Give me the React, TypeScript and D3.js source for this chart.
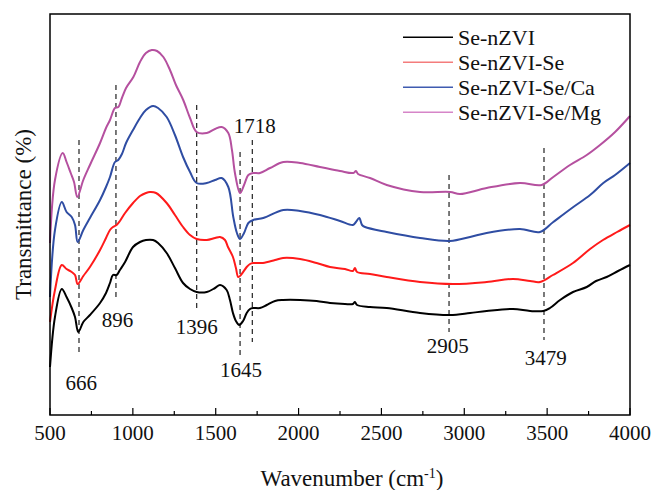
import React from "react";
import * as d3 from "d3";

// ---- data (wavenumber cm^-1, transmittance in arbitrary offset units) ----
const seNZVI: [number, number][] = [
  [500, 48], [530, 98], [571, 126], [600, 118], [631, 107], [651, 98], [671, 83], [701, 93],
  [741, 100], [802, 112], [838, 122], [862, 132], [880, 140], [902, 140], [922, 145], [953, 153],
  [1001, 168], [1043, 173], [1079, 175], [1122, 175], [1152, 172], [1204, 162], [1254, 147],
  [1303, 132], [1345, 126], [1385, 123], [1446, 123], [1496, 127], [1526, 130], [1566, 125],
  [1586, 115], [1604, 102], [1622, 94], [1642, 90], [1665, 94], [1687, 102], [1707, 106],
  [1725, 107], [1767, 107], [1808, 110], [1858, 114], [1906, 115], [2009, 115], [2109, 114],
  [2190, 112], [2280, 111], [2328, 111], [2340, 113], [2353, 110], [2431, 108], [2532, 107],
  [2733, 102], [2914, 100], [3035, 102], [3135, 104], [3294, 106], [3397, 104], [3477, 104],
  [3517, 107], [3578, 115], [3656, 123], [3739, 128], [3795, 134], [3859, 138], [3928, 144],
  [4000, 150],
];

const seNZVISe: [number, number][] = [
  [500, 93], [530, 125], [571, 150], [600, 146], [631, 143], [651, 140], [667, 131], [701, 139],
  [741, 148], [802, 165], [838, 177], [862, 185], [880, 188], [902, 190], [922, 194], [953, 202],
  [1001, 212], [1043, 219], [1079, 222], [1103, 223], [1140, 222], [1204, 212], [1254, 200],
  [1303, 188], [1345, 180], [1385, 176], [1446, 175], [1496, 177], [1526, 178], [1556, 175],
  [1574, 168], [1604, 158], [1622, 147], [1636, 138], [1652, 140], [1687, 148], [1707, 151],
  [1725, 152], [1785, 152], [1858, 155], [1906, 157], [2009, 156], [2109, 152], [2190, 148],
  [2280, 146], [2328, 144], [2340, 147], [2353, 143], [2431, 141], [2532, 138], [2733, 133],
  [2932, 131], [3135, 133], [3294, 136], [3397, 134], [3457, 133], [3535, 140], [3656, 152],
  [3759, 166], [3837, 175], [3922, 183], [4000, 190],
];

const seNZVISeCa: [number, number][] = [
  [500, 118], [530, 185], [571, 213], [600, 203], [631, 198], [651, 190], [667, 173], [701, 185],
  [741, 197], [802, 215], [838, 228], [862, 238], [892, 253], [912, 255], [934, 261], [959, 272],
  [1001, 285], [1043, 297], [1079, 305], [1122, 309], [1152, 307], [1204, 298], [1254, 280],
  [1303, 258], [1345, 243], [1385, 232], [1446, 232], [1496, 235], [1536, 237], [1576, 228],
  [1606, 198], [1628, 182], [1647, 176], [1671, 182], [1697, 192], [1727, 195], [1787, 197],
  [1908, 205], [2009, 204], [2129, 200], [2250, 194], [2328, 190], [2346, 193], [2366, 197],
  [2383, 190], [2401, 188], [2532, 183], [2733, 177], [2914, 174], [3035, 178], [3135, 182],
  [3336, 186], [3457, 183], [3537, 193], [3658, 208], [3759, 220], [3839, 232], [3910, 240],
  [4000, 252],
];

const seNZVISeMg: [number, number][] = [
  [500, 172], [530, 235], [577, 262], [600, 253], [625, 242], [645, 233], [665, 218], [701, 235],
  [741, 250], [802, 272], [838, 287], [862, 295], [892, 307], [912, 308], [934, 317], [959, 327],
  [1003, 338], [1043, 353], [1079, 362], [1114, 365], [1146, 364], [1184, 358], [1224, 345],
  [1260, 330], [1304, 315], [1345, 297], [1385, 283], [1446, 282], [1496, 286], [1536, 288],
  [1576, 282], [1598, 265], [1616, 242], [1647, 222], [1671, 230], [1697, 240], [1725, 242],
  [1767, 242], [1828, 247], [1908, 253], [2009, 252], [2129, 248], [2250, 244], [2330, 242],
  [2346, 244], [2359, 241], [2431, 237], [2532, 230], [2733, 223], [2914, 223], [2974, 221],
  [3135, 227], [3336, 232], [3467, 230], [3537, 238], [3638, 250], [3739, 260], [3819, 270],
  [3910, 283], [4000, 299],
];

const seriesNames = ["Se-nZVI", "Se-nZVI-Se", "Se-nZVI-Se/Ca", "Se-nZVI-Se/Mg"];
const seriesData = [seNZVI, seNZVISe, seNZVISeCa, seNZVISeMg];
const seriesColors = ["#000000", "#ff1a1a", "#2f4da3", "#b5509f"];
const legendColors = ["#000000", "#f47c7c", "#3f5bb0", "#d685c8"];

// peak marker lines: wavenumber, top, bottom (transmittance units)
const peakLines: [number, number, number][] = [
  [675, 275, 60], [898, 330, 115], [1385, 310, 105], [1647, 263, 58],
  [1721, 275, 73], [2908, 240, 83], [3481, 267, 75],
];
// peak labels: text, wavenumber, transmittance (baseline)
const peakLabels: [string, number, number][] = [
  ["666", 689, 25], ["896", 907, 88], ["1396", 1385, 81], ["1645", 1653, 38],
  ["1718", 1735, 282], ["2905", 2900, 62], ["3479", 3491, 50],
];

const xTicks = [500, 1000, 1500, 2000, 2500, 3000, 3500, 4000];
const xMinorTicks = [750, 1250, 1750, 2250, 2750, 3250, 3750];

const W = 655;
const H = 490;
const M = { left: 50, right: 25, top: 14, bottom: 75 };
const FONT = "'Liberation Serif', 'Times New Roman', serif";

export default function App() {
  const x = d3.scaleLinear().domain([500, 4000]).range([M.left, W - M.right]);
  const y = d3.scaleLinear().domain([0, 401]).range([H - M.bottom, M.top]);
  const line = d3
    .line<[number, number]>()
    .x((d) => x(d[0]))
    .y((d) => y(d[1]))
    .curve(d3.curveCatmullRom.alpha(0.5));

  const x0 = M.left, x1 = W - M.right, y0 = M.top, y1 = H - M.bottom;

  return (
    <svg
      width={W}
      height={H}
      style={{ position: "absolute", left: 0, top: 0, background: "#fff" }}
      fontFamily={FONT}
    >
      {/* peak dashed lines */}
      {peakLines.map(([wn, t, b], i) => (
        <line
          key={"pl" + i}
          x1={x(wn)}
          x2={x(wn)}
          y1={y(t)}
          y2={y(b)}
          stroke="#333"
          strokeWidth={1.3}
          strokeDasharray="5,4"
        />
      ))}
      {/* spectra */}
      {seriesData.map((d, i) => (
        <path
          key={"s" + i}
          d={line(d) || ""}
          fill="none"
          stroke={seriesColors[i]}
          strokeWidth={2}
          strokeLinejoin="round"
        />
      ))}
      {/* peak labels */}
      {peakLabels.map(([t, wn, v], i) => (
        <text key={"lb" + i} x={x(wn)} y={y(v)} fontSize={21} textAnchor="middle" fill="#111">
          {t}
        </text>
      ))}
      {/* frame */}
      <rect x={x0} y={y0} width={x1 - x0} height={y1 - y0} fill="none" stroke="#000" strokeWidth={1.5} />
      {/* ticks (inward) */}
      {xTicks.map((t) => (
        <line key={"t" + t} x1={x(t)} x2={x(t)} y1={y1} y2={y1 - 7} stroke="#000" strokeWidth={1.2} />
      ))}
      {xMinorTicks.map((t) => (
        <line key={"m" + t} x1={x(t)} x2={x(t)} y1={y1} y2={y1 - 4} stroke="#000" strokeWidth={1.2} />
      ))}
      {xTicks.map((t) => (
        <text key={"tl" + t} x={x(t)} y={y1 + 25} fontSize={21} textAnchor="middle" fill="#111">
          {t}
        </text>
      ))}
      {/* axis titles */}
      <text x={352} y={486} fontSize={23} textAnchor="middle" fill="#111">
        Wavenumber (cm
        <tspan dy={-8} fontSize={14}>-1</tspan>
        <tspan dy={8}>)</tspan>
      </text>
      <text
        transform={`translate(31,${(y0 + y1) / 2}) rotate(-90)`}
        fontSize={23}
        textAnchor="middle"
        fill="#111"
      >
        Transmittance (%)
      </text>
      {/* legend */}
      {seriesNames.map((n, i) => (
        <g key={"lg" + i} transform={`translate(403,${37.3 + i * 25})`}>
          <line x1={0} x2={50} y1={0} y2={0} stroke={legendColors[i]} strokeWidth={1.6} />
          <text x={55} y={7.5} fontSize={22} fill="#111">
            {n}
          </text>
        </g>
      ))}
    </svg>
  );
}
